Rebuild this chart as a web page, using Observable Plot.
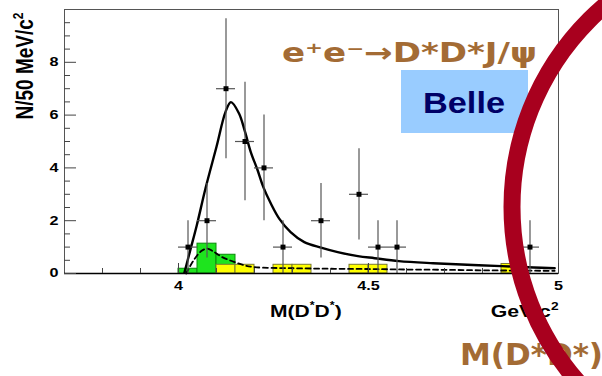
<!DOCTYPE html>
<html><head><meta charset="utf-8">
<script src="https://cdn.jsdelivr.net/npm/d3@7"></script>
<script src="https://cdn.jsdelivr.net/npm/@observablehq/plot@0.6"></script>
<style>html,body{margin:0;padding:0;background:#fff;overflow:hidden}</style>
</head><body><div id="chart"></div>
<script>
// ---- data ----
const binWidth = 0.05; // 50 MeV bins
const binCenters = [4.025, 4.075, 4.125, 4.175, 4.225, 4.275, 4.375, 4.475, 4.525, 4.575, 4.925];
const counts     = [1, 2, 7, 5, 4, 1, 2, 3, 1, 1, 1];
const errors     = [1, 1.41, 2.65, 2.24, 2, 1, 1.41, 1.73, 1, 1, 1];

const fitX = [4.015, 4.03, 4.048, 4.071, 4.1, 4.124, 4.138, 4.159, 4.174, 4.19, 4.208, 4.223, 4.243, 4.265, 4.295, 4.331, 4.375, 4.419, 4.472, 4.516, 4.58, 4.67, 4.76, 4.85, 4.935, 4.99];
const fitY = [0, 0.83, 1.82, 3.22, 4.8, 6.13, 6.49, 6.07, 5.42, 4.61, 3.92, 3.28, 2.65, 2.08, 1.57, 1.19, 0.98, 0.81, 0.66, 0.58, 0.47, 0.39, 0.33, 0.28, 0.23, 0.2];

const bkgX = [4.02, 4.04, 4.06, 4.075, 4.09, 4.115, 4.15, 4.176, 4.2, 4.3, 4.4, 4.5, 4.6, 4.7, 4.8, 4.9, 4.99];
const bkgY = [0, 0.5, 0.85, 0.94, 0.85, 0.62, 0.42, 0.3, 0.24, 0.2, 0.18, 0.17, 0.15, 0.14, 0.12, 0.11, 0.1];

const greenLow = [4.0, 4.05, 4.1];
const greenVal = [0.18, 1.13, 0.71];
const yellowLow = [4.1, 4.15, 4.25, 4.3, 4.45, 4.5, 4.85];
const yellowVal = [0.33, 0.33, 0.33, 0.33, 0.33, 0.33, 0.36];

const xMajor = [4, 4.5, 5];
const xMinor = [3.8, 3.9, 4.1, 4.2, 4.3, 4.4, 4.6, 4.7, 4.8, 4.9];
const yMajor = [0, 2, 4, 6, 8];
const yMinor = [0.5, 1, 1.5, 2.5, 3, 3.5, 4.5, 5, 5.5, 6.5, 7, 7.5, 8.5, 9, 9.5];

// ---- tables ----
const points = binCenters.map((x, i) => ({x, n: counts[i], e: errors[i]}));
const fit = fitX.map((x, i) => ({x, y: fitY[i]}));
const bkg = bkgX.map((x, i) => ({x, y: bkgY[i]}));
const green = greenLow.map((x, i) => ({x1: x, x2: x + binWidth, y: greenVal[i]}));
const yellow = yellowLow.map((x, i) => ({x1: x, x2: x + binWidth, y: yellowVal[i]}));

const W = 602, H = 376, ML = 64, MR = 44, MT = 9, MB = 103;
const FW = W - ML - MR, FH = H - MT - MB;

const plot = Plot.plot({
  width: W, height: H,
  marginLeft: ML, marginRight: MR, marginTop: MT, marginBottom: MB,
  style: {fontFamily: "'Liberation Sans', Arial, sans-serif", fontWeight: "bold", fontSize: "12px", color: "black", background: "white"},
  x: {domain: [3.7, 5], label: null},
  y: {domain: [0, 10], label: null},
  marks: [
    Plot.rect(green, {x1: "x1", x2: "x2", y1: 0, y2: "y", fill: "#1ee41e", stroke: "#0a8a0a", strokeWidth: 1}),
    Plot.rect(yellow, {x1: "x1", x2: "x2", y1: 0, y2: "y", fill: "#ffff00", stroke: "#7a7a30", strokeWidth: 1}),
    Plot.line(bkg, {x: "x", y: "y", stroke: "black", strokeWidth: 1.8, strokeDasharray: "5,3.5", curve: "catmull-rom"}),
    Plot.line(fit, {x: "x", y: "y", stroke: "black", strokeWidth: 2.4, curve: "catmull-rom", clip: true}),
    Plot.ruleX(points, {x: "x", y1: d => Math.max(0, d.n - d.e), y2: d => d.n + d.e, stroke: "#555", strokeWidth: 1.2}),
    Plot.ruleY(points, {y: "n", x1: d => d.x - binWidth / 2, x2: d => d.x + binWidth / 2, stroke: "#555", strokeWidth: 1.2}),
    Plot.dot(points, {x: "x", y: "n", symbol: "square", r: 2.8, fill: "black", stroke: null}),
    Plot.frame({stroke: "#555"}),
    Plot.ruleY([0], {stroke: "black", strokeWidth: 1.6}),
    Plot.tickY(yMajor, {y: d => d, insetRight: FW - 12, stroke: "#444"}),
    Plot.tickY(yMinor, {y: d => d, insetRight: FW - 6, stroke: "#444"}),
    Plot.tickX(xMajor, {x: d => d, insetTop: FH - 10, stroke: "#444"}),
    Plot.tickX(xMinor, {x: d => d, insetTop: FH - 5, stroke: "#444"}),
    Plot.axisY(yMajor, {tickSize: 0, tickPadding: 6, label: null}),
    Plot.axisX(xMajor, {tickSize: 0, tickPadding: 8, label: null, tickFormat: d => String(d)})
  ]
});
document.getElementById("chart").appendChild(plot);

const svg = d3.select(plot);
// widen the tick labels like the reference
svg.selectAll('g[aria-label="x-axis tick label"] text, g[aria-label="y-axis tick label"] text').each(function() {
  const t = d3.select(this);
  let tr = t.attr("transform");
  if (!tr) {
    const x = +t.attr("x") || 0, y = +t.attr("y") || 0;
    tr = `translate(${x},${y})`;
    t.attr("x", null);
  }
  t.attr("transform", tr + " scale(1.35,1)");
});

// axis titles
const yl = svg.append("text")
  .attr("transform", "translate(32.5,66) scale(1.22,1) rotate(-90)")
  .attr("text-anchor", "middle")
  .attr("font-size", 19).attr("font-weight", "bold").attr("fill", "black");
yl.append("tspan").text("N/50 MeV/c");
yl.append("tspan").attr("font-size", 12).attr("dy", -8).text("2");

const xl = svg.append("text")
  .attr("transform", "translate(270,317.3) scale(1.24,1)")
  .attr("text-anchor", "start")
  .attr("font-size", 17).attr("font-weight", "bold").attr("fill", "black");
xl.append("tspan").text("M(D");
xl.append("tspan").attr("font-size", 10).attr("dy", -8).text("*");
xl.append("tspan").attr("dy", 8).text("D");
xl.append("tspan").attr("font-size", 10).attr("dy", -8).text("*");
xl.append("tspan").attr("dy", 8).text(")");

const gl = svg.append("text")
  .attr("transform", "translate(490.7,316.7) scale(1.25,1)")
  .attr("text-anchor", "start")
  .attr("font-size", 17).attr("font-weight", "bold").attr("fill", "black");
gl.append("tspan").text("GeV/c");
gl.append("tspan").attr("font-size", 11).attr("dy", -7).text("2");

// annotations
svg.append("text")
  .attr("x", 282).attr("y", 61.7)
  .attr("text-anchor", "start")
  .attr("font-family", "'DejaVu Sans', sans-serif")
  .attr("font-size", 27).attr("font-weight", "bold").attr("fill", "#a36b34")
  .attr("textLength", 255).attr("lengthAdjust", "spacingAndGlyphs")
  .text("e⁺e⁻→D*D*J/ψ");

svg.append("rect").attr("x", 401).attr("y", 70).attr("width", 127).attr("height", 63).attr("fill", "#99ccff");
svg.append("text")
  .attr("x", 423).attr("y", 113.3)
  .attr("text-anchor", "start")
  .attr("font-size", 29).attr("font-weight", "bold").attr("fill", "#000066")
  .attr("textLength", 82).attr("lengthAdjust", "spacingAndGlyphs")
  .text("Belle");

svg.append("text")
  .attr("x", 460).attr("y", 365)
  .attr("text-anchor", "start")
  .attr("font-family", "'DejaVu Sans', sans-serif")
  .attr("font-size", 30).attr("font-weight", "bold").attr("fill", "#a36b34")
  .attr("textLength", 143).attr("lengthAdjust", "spacingAndGlyphs")
  .text("M(D*D*)");

svg.append("circle")
  .attr("cx", 777).attr("cy", 207).attr("r", 265)
  .attr("fill", "none").attr("stroke", "#a8001e").attr("stroke-width", 17);
</script>
</body></html>
